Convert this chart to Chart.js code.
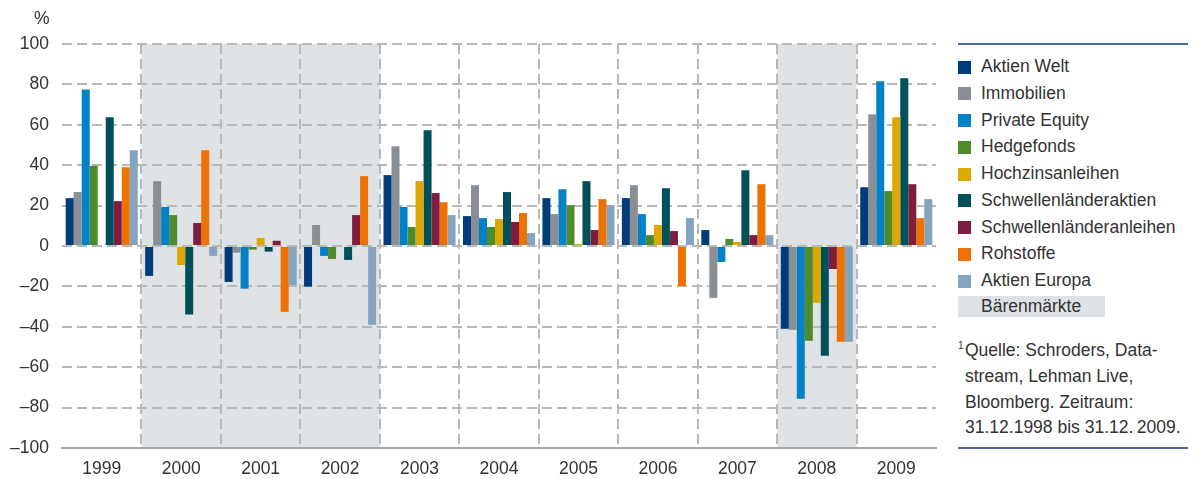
<!DOCTYPE html>
<html>
<head>
<meta charset="utf-8">
<script src="https://cdn.jsdelivr.net/npm/chart.js@4/dist/chart.umd.min.js"></script>
<style>
  body { margin: 0; background: #fff; font-family: "Liberation Sans", Arial, sans-serif; color: #333; }
  #wrap { position: relative; width: 1198px; height: 479px; }
  #chart { position: absolute; left: 0; top: 0; }
  .abs { position: absolute; white-space: nowrap; font-size: 17.5px; }
  .rule { position: absolute; left: 958px; width: 230px; height: 0; border-top: 2px solid #4b6c9c; }
  .sw { position: absolute; width: 13px; height: 13px; }
</style>
</head>
<body>
<div id="wrap">
  <canvas id="chart" width="940" height="479"></canvas>
  <div class="abs" style="left:34px; top:8px;">%</div>
  <div id="legend"></div>
</div>
<script>
const years = ['1999', '2000', '2001', '2002', '2003', '2004', '2005', '2006', '2007', '2008', '2009'];
const bearYears = ['2000', '2001', '2002', '2008'];

const aktienWelt     = [23.7, -14.8, -17.8, -20.1, 35.1, 14.8, 23.7, 23.7, 7.9, -41.0, 29.1];
const immobilien     = [26.7, 32.1, -3.3, 10.4, 49.4, 30.1, 15.8, 30.1, -25.7, -41.5, 65.2];
const privateEquity  = [77.5, 19.3, -21.1, -4.9, 19.3, 13.8, 28.1, 15.8, -7.9, -75.6, 81.5];
const hedgefonds     = [39.7, 15.3, -1.8, -6.4, 9.4, 9.4, 20.2, 5.4, 3.5, -46.9, 27.2];
const hochzins       = [null, -9.4, 4.0, null, 32.1, 13.3, 1.0, 10.4, 2.0, -28.1, 63.7];
const slAktien       = [63.7, -33.9, -2.8, -6.9, 57.3, 26.7, 32.1, 28.6, 37.5, -54.3, 83.0];
const slAnleihen     = [22.2, 11.4, 2.6, 15.3, 26.2, 11.9, 7.9, 7.4, 5.4, -11.4, 30.6];
const rohstoffe      = [39.0, 47.4, -32.6, 34.6, 21.7, 16.3, 23.2, -19.8, 30.6, -47.4, 13.8];
const aktienEuropa   = [47.4, -4.9, -19.3, -39.0, 15.3, 6.4, 20.2, 13.8, 5.4, -47.4, 23.2];

const seriesNames = ['Aktien Welt', 'Immobilien', 'Private Equity', 'Hedgefonds', 'Hochzinsanleihen',
  'Schwellenländeraktien', 'Schwellenländeranleihen', 'Rohstoffe', 'Aktien Europa'];
const seriesData = [aktienWelt, immobilien, privateEquity, hedgefonds, hochzins, slAktien, slAnleihen, rohstoffe, aktienEuropa];
const seriesColors = ['#003b7a', '#8a8e95', '#0082c8', '#4f8a2b', '#dba700', '#00505a', '#7e1d3e', '#ee7203', '#84a3c1'];

const footnote = ['Quelle: Schroders, Data-', 'stream, Lehman Live,', 'Bloomberg. Zeitraum:', '31.12.1998 bis 31.12.\u20092009.'];

const gridColor = '#b8b8b8';
const shadeColor = '#dfe2e5';
const textColor = '#333';

// grey background for the bear market years
const bearShading = {
  id: 'bearShading',
  beforeDraw(chart) {
    const {ctx, chartArea, scales: {x}} = chart;
    const w = (chartArea.right - chartArea.left) / years.length;
    ctx.save();
    ctx.fillStyle = shadeColor;
    bearYears.forEach(y => {
      const cx = x.getPixelForValue(years.indexOf(y));
      ctx.fillRect(cx - w / 2, chartArea.top, w, chartArea.bottom - chartArea.top);
    });
    ctx.restore();
  }
};

new Chart(document.getElementById('chart').getContext('2d'), {
  type: 'bar',
  data: {
    labels: years,
    datasets: seriesNames.map((name, i) => ({
      label: name,
      data: seriesData[i],
      backgroundColor: seriesColors[i],
      borderWidth: 0,
      categoryPercentage: 0.907,
      barPercentage: 1.0
    }))
  },
  options: {
    responsive: false,
    animation: false,
    devicePixelRatio: 1,
    layout: { padding: { top: 44, right: 4, left: 0, bottom: 0 } },
    plugins: {
      legend: { display: false },
      tooltip: { enabled: false }
    },
    scales: {
      x: {
        grid: {
          offset: true,
          drawTicks: false,
          lineWidth: 2,
          color: c => (c.index > 0 && c.index < years.length) ? gridColor : 'transparent'
        },
        border: { display: true, color: '#a8a8a8', width: 2, dash: [10, 5] },
        ticks: { color: textColor, font: { family: 'Liberation Sans', size: 17.5 }, padding: 11 },
        afterFit: s => { s.height = 31; }
      },
      y: {
        min: -100,
        max: 100,
        grid: {
          drawTicks: false,
          lineWidth: 2,
          color: c => (c.tick && c.tick.value === -100) ? 'transparent' : gridColor
        },
        border: { display: false, dash: [10, 5] },
        ticks: {
          stepSize: 20,
          padding: 13,
          color: textColor,
          font: { family: 'Liberation Sans', size: 17.5 },
          callback: v => v < 0 ? '\u2013' + Math.abs(v) : String(v)
        },
        afterFit: s => { s.width = 62; }
      }
    }
  },
  plugins: [bearShading]
});

// legend and source note on the right
const legend = document.getElementById('legend');
let html = '<div class="rule" style="top:43px"></div>';
seriesNames.forEach((name, i) => {
  const cy = 66 + i * 26.75;
  html += '<div class="sw" style="left:958px; top:' + (cy - 5.5) + 'px; background:' + seriesColors[i] + '"></div>';
  html += '<div class="abs" style="left:981px; top:' + (cy - 11) + 'px; line-height:22px">' + name + '</div>';
});
html += '<div class="abs" style="left:958px; top:296px; width:147px; height:21px; line-height:21px; background:' + shadeColor + '"><span style="padding-left:23px">Bärenmärkte</span></div>';
footnote.forEach((line, i) => {
  const cy = 350 + i * 25.8;
  html += '<div class="abs" style="left:965px; top:' + (cy - 11) + 'px; line-height:22px">' + line + '</div>';
});
html += '<div class="abs" style="left:958px; top:340px; font-size:10px; line-height:11px">1</div>';
html += '<div class="rule" style="top:447px"></div>';
legend.innerHTML = html;
</script>
</body>
</html>
